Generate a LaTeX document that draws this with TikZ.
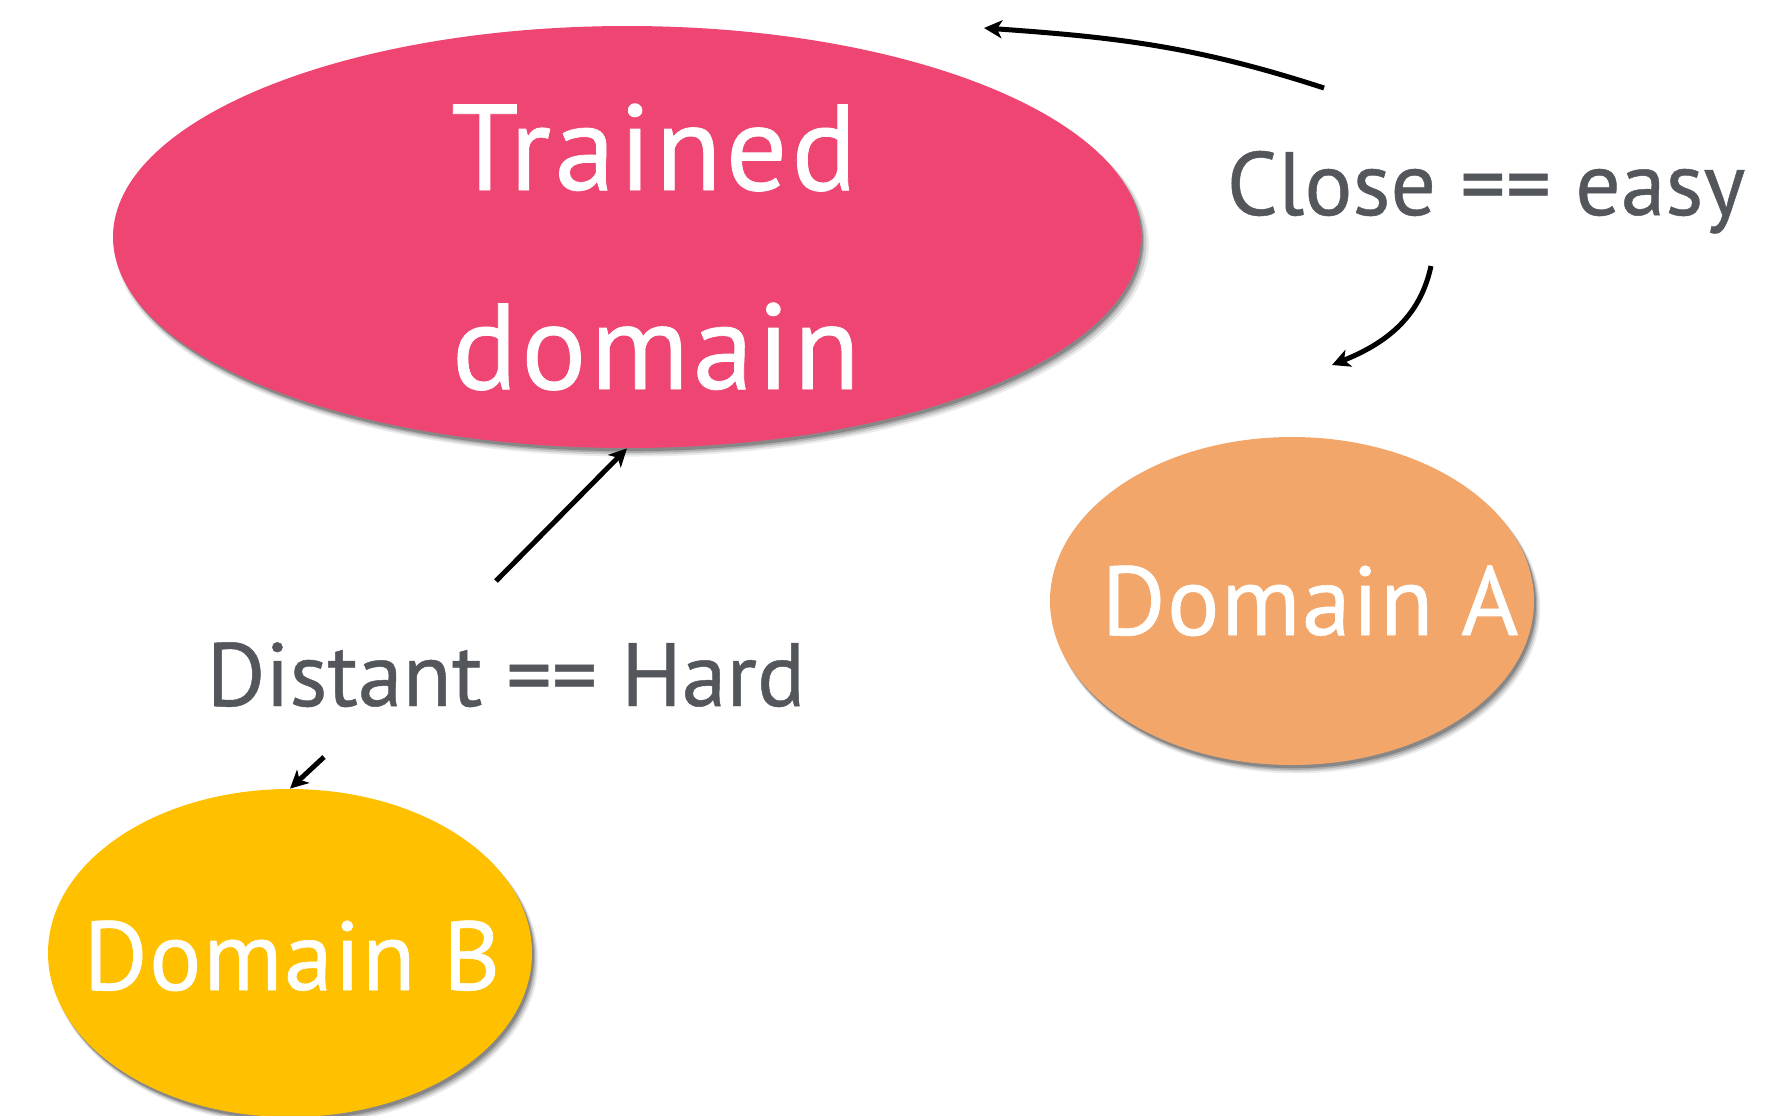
\documentclass[tikz,border=0pt]{standalone}
\usepackage{fontspec}
\setmainfont{PT Sans}
\usetikzlibrary{shapes.geometric,arrows.meta,shadows}
\definecolor{trainpink}{HTML}{EF4572}
\definecolor{domorange}{HTML}{F3A66A}
\definecolor{domyellow}{HTML}{FFC000}
\definecolor{labelgray}{HTML}{53565B}
\tikzset{
  softshadow/.style={
    general shadow={fill=black, opacity=0.08, shadow xshift=2.4pt, shadow yshift=-3.6pt, shadow scale=1.006},
    general shadow={fill=black, opacity=0.12, shadow xshift=2.0pt, shadow yshift=-3.0pt, shadow scale=1.003},
    general shadow={fill=black, opacity=0.16, shadow xshift=1.6pt, shadow yshift=-2.4pt},
    general shadow={fill=black, opacity=0.22, shadow xshift=1.0pt, shadow yshift=-1.6pt}},
  blob/.style={ellipse, inner sep=0pt, draw=none, softshadow},
  bigword/.style={anchor=base, text=white, inner sep=0pt,
    font=\fontsize{61}{72}\selectfont\addfontfeature{LetterSpace=3,FakeBold=0.6}},
  midword/.style={anchor=base, text=white, inner sep=0pt,
    font=\fontsize{49}{58}\selectfont\addfontfeature{LetterSpace=1.5,FakeBold=0.6}},
  note/.style={anchor=base, text=labelgray, inner sep=0pt,
    font=\fontsize{45}{54}\selectfont\addfontfeature{FakeBold=0.5}},
  conn/.style={draw=black, line width=2.5pt, -{Stealth[length=9pt,width=9pt,inset=2.5pt]}}
}
\begin{document}
\begin{tikzpicture}[x=0.5pt,y=-0.5pt]
\useasboundingbox (0,0) rectangle (1778,1115);

% domains
\node[blob, fill=trainpink, minimum width=514pt, minimum height=211pt] (trained) at (627,237) {};
\node[blob, fill=domorange, minimum width=242pt, minimum height=164pt] (doma) at (1292,601) {};
\node[blob, fill=domyellow, minimum width=242pt, minimum height=164pt] (domb) at (290,953) {};

% domain names
\node[bigword] (tw1) at (654,190) {Trained};
\node[bigword] (tw2) at (656,389) {domain};
\node[midword] (aw) at (1310,635) {Domain A};
\node[midword] (bw) at (292,990) {Domain B};

% relation notes
\node[note] (close) at (1486,215) {Close == easy};
\node[note] (distant) at (506,706) {Distant == Hard};

% arrow ends
\coordinate (c1) at (1324,88);
\coordinate (c1end) at (984,28);
\coordinate (c2) at (1431,266);
\coordinate (c2end) at (1332,365);
\coordinate (d1) at (496,581);
\coordinate (d2) at (324,757);

% connectors
\draw[conn] (c1) to[out=162, in=-4] (c1end);
\draw[conn] (c2) to[out=-102, in=22] (c2end);
\draw[conn] (d1) -- (trained.south);
\draw[conn] (d2) -- (domb.north);
\end{tikzpicture}
\end{document}
